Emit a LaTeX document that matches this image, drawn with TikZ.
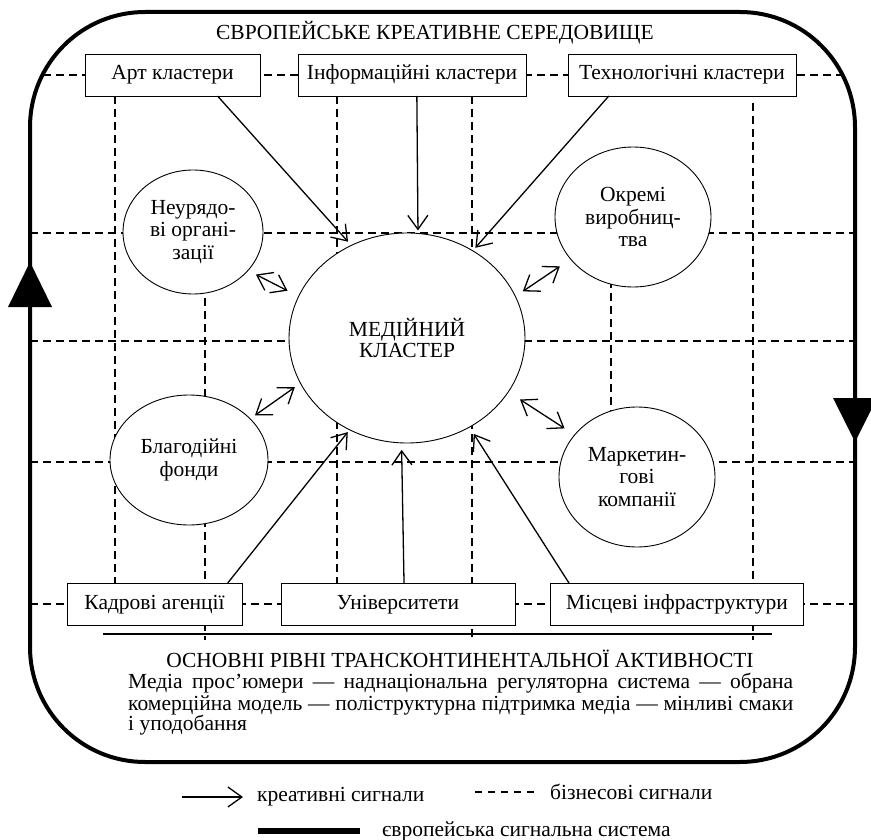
\documentclass[tikz,border=0pt]{standalone}
\usepackage{fontspec}
\setmainfont{Liberation Serif}
\usetikzlibrary{arrows.meta,shapes.geometric}

\begin{document}
\begin{tikzpicture}[x=1pt,y=-1pt,
  every node/.style={font=\fontsize{21.5}{22.5}\selectfont},
  box/.style={draw,line width=0.9pt,fill=white,minimum height=42pt,inner sep=0pt,outer sep=0pt,text height=14pt,text depth=4pt},
  blob/.style={ellipse,draw,line width=0.9pt,fill=white,inner sep=0pt,outer sep=0pt,align=center},
  biz/.style={line width=1.3pt,dash pattern=on 8pt off 5pt},
  barb/.tip={Straight Barb[length=14pt,width=20pt]},
  cre/.style={line width=1.3pt,-barb},
  cretwo/.style={line width=1.3pt,barb-barb},
  frameline/.style={line width=4pt,rounded corners=115pt},
  textline/.style={inner sep=0pt,text height=14pt,text depth=4pt},
]
\useasboundingbox (0,0) rectangle (871,840);

% business signal grid, kept inside the frame
\begin{scope}
  \clip[rounded corners=115pt] (30,12) rectangle (855,762);
  \foreach \yy in {75,233,341,462,604}
    \draw[biz] (30,\yy) -- (855,\yy);
  \draw[biz] (115,96) -- (115,583);
  \draw[biz] (205,285) -- (205,640);
  \draw[biz] (337,96) -- (337,583);
  \draw[biz] (472,96) -- (472,640);
  \draw[biz] (611,280) -- (611,415);
  \draw[biz] (753,103) -- (753,640);
\end{scope}

% European signal system frame
\draw[frameline] (30,12) rectangle (855,762);
\fill (30,262) -- (52,307) -- (8,307) -- cycle;
\fill (855,442) -- (833,398) -- (877,398) -- cycle;

\node (envtitle) at (435,33) {ЄВРОПЕЙСЬКЕ КРЕАТИВНЕ СЕРЕДОВИЩЕ};

% clusters along the top
\node[box,minimum width=175pt] (art)  at (172.5,75) {Арт кластери};
\node[box,minimum width=228pt] (inf)  at (412,75)   {Інформаційні кластери};
\node[box,minimum width=228pt] (tech) at (682,75)   {Технологічні кластери};

% partners along the bottom
\node[box,minimum width=175pt] (kad) at (154.5,604) {Кадрові агенції};
\node[box,minimum width=234pt] (uni) at (398,604)   {Університети};
\node[box,minimum width=253pt] (mis) at (677,604)   {Місцеві інфраструктури};

% organisations around the cluster
\node[blob,minimum width=236pt,minimum height=210pt,font=\fontsize{21.5}{21}\selectfont] (main) at (407,338) {МЕДІЙНИЙ\\КЛАСТЕР};
\node[blob,minimum width=140pt,minimum height=124pt] (ngo)  at (193,232) {Неурядо-\\ві органі-\\зації};
\node[blob,minimum width=156pt,minimum height=140pt] (okr)  at (633,217) {Окремі\\виробниц-\\тва};
\node[blob,minimum width=158pt,minimum height=130pt] (char) at (189,460) {Благодійні\\фонди};
\node[blob,minimum width=156pt,minimum height=140pt] (mark) at (637,477) {Маркетин-\\гові\\компанії};

% creative signals
\draw[cre,shorten >=5pt] (art.-25) -- (main.121);
\draw[cre,shorten >=3pt] (inf.-77) -- (main.84.5);
\draw[cre,shorten >=4pt] (tech.196.7) -- (main.53.4);
\draw[cre,shorten >=3pt] (kad.16) -- (main.238.8);
\draw[cre,shorten >=7pt] (uni.74) -- (main.267.3);
\draw[cre,shorten >=8pt] (mis.169) -- (main.-55.3);
\draw[cretwo,shorten <=9pt,shorten >=13pt] (main.21) -- (okr.214.4);
\draw[cretwo,shorten <=14pt,shorten >=12pt] (main.-28.5) -- (mark.146.5);
\draw[cretwo,shorten <=6pt,shorten >=7pt] (char.34.2) -- (main.203.2);
\draw[cretwo,shorten <=9pt,shorten >=12.5pt] (ngo.-35) -- (main.159.8);

% levels of transcontinental activity
\draw[line width=1.2pt] (103,634) -- (772,634);
\node[textline,anchor=base] (lvltitle) at (460,667) {ОСНОВНІ РІВНІ ТРАНСКОНТИНЕНТАЛЬНОЇ АКТИВНОСТІ};
\node[textline,anchor=base west] (lvlone) at (128,688)
  {\makebox[665pt][s]{Медіа прос’юмери — наднаціональна регуляторна система — обрана}};
\node[textline,anchor=base west] (lvltwo) at (128,710)
  {\makebox[665pt][s]{комерційна модель — поліструктурна підтримка медіа — мінливі смаки}};
\node[textline,anchor=base west] (lvlthree) at (128,730) {і уподобання};

% legend
\coordinate (crefrom) at (182,797);
\coordinate (creto) at (243,797);
\draw[cre] (crefrom) -- (creto);
\node[anchor=west,inner sep=0pt] (crelabel) at (257,797) {креативні сигнали};
\coordinate (bizfrom) at (475,792);
\coordinate (bizto) at (538,792);
\draw[line width=1.3pt,dash pattern=on 7pt off 6pt] (bizfrom) -- (bizto);
\node[anchor=west,inner sep=0pt] (bizlabel) at (550,792) {бізнесові сигнали};
\coordinate (eufrom) at (258,831);
\coordinate (euto) at (360,831);
\draw[line width=6pt] (eufrom) -- (euto);
\node[anchor=west,inner sep=0pt] (eulabel) at (382,831) {європейська сигнальна система};
\end{tikzpicture}
\end{document}
